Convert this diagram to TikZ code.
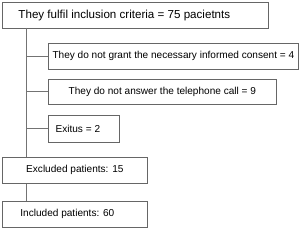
\documentclass[tikz,border=0pt]{standalone}
\usepackage{fontspec}
\setmainfont{Liberation Sans}
\usetikzlibrary{positioning}

\begin{document}
\begin{tikzpicture}[x=0.03cm, y=-0.03cm,
    flowbox/.style={draw=black!60, line width=0.6pt, anchor=north west,
        inner sep=0pt, font=\fontsize{8.6}{10}\selectfont},
    link/.style={draw=black!55, line width=0.8pt}]
    % Fixed frame of the picture
    \useasboundingbox (0,0) rectangle (300,229);

    % Boxes
    \node[flowbox, minimum width=7.98cm, minimum height=0.78cm,
        font=\fontsize{9.9}{12}\selectfont] (incl) at (2,2)
        {\hspace*{-0.66cm}They fulfil inclusion criteria = 75 pacietnts};
    \node[flowbox, minimum width=7.5cm, minimum height=0.78cm] (consent) at (48,43)
        {They do not grant the necessary informed consent = 4};
    \node[flowbox, minimum width=6.84cm, minimum height=0.75cm] (phone) at (48,79)
        {They do not answer the telephone call = 9};
    \node[flowbox, minimum width=2.13cm, minimum height=0.81cm] (exitus) at (48,115)
        {\hspace*{-0.36cm}Exitus = 2};
    \node[flowbox, minimum width=4.35cm, minimum height=0.78cm] (excluded) at (2,157)
        {Excluded patients: 15};
    \node[flowbox, minimum width=4.35cm, minimum height=0.78cm] (included) at (2,201)
        {\hspace*{-0.45cm}Included patients: 60};

    % Trunk and branches
    \coordinate (top) at (26,28);
    \draw[link] (top) -- (top |- excluded.north);
    \draw[link] (top |- consent.west) -- (consent.west);
    \draw[link] (top |- phone.west) -- (phone.west);
    \draw[link] (top |- exitus.west) -- (exitus.west);
    \draw[link] (top |- excluded.south) -- (top |- included.north);
\end{tikzpicture}
\end{document}
